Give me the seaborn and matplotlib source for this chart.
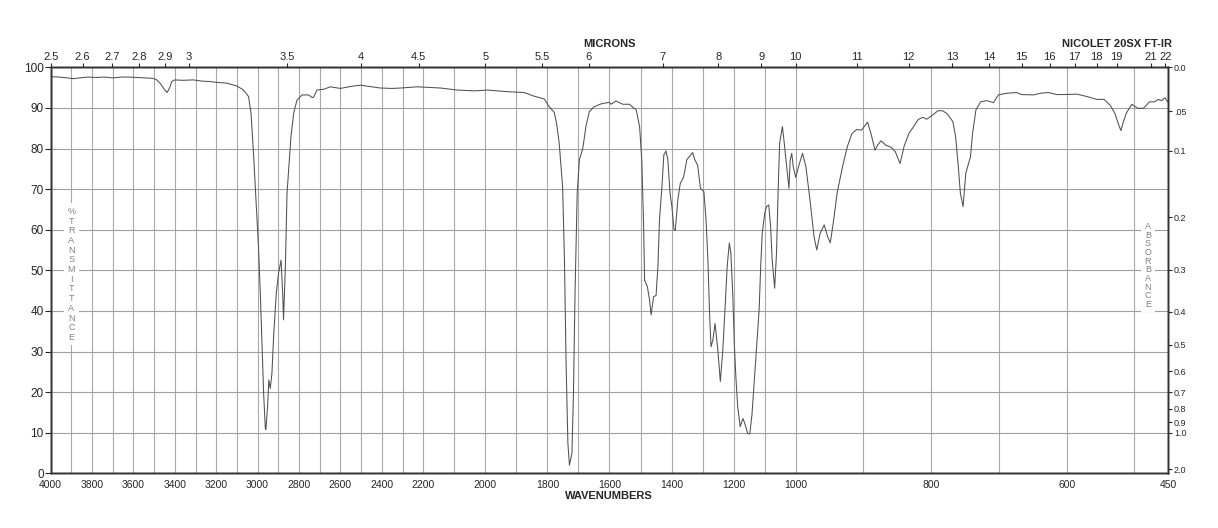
import numpy as np
import matplotlib
matplotlib.use("Agg")
import matplotlib.pyplot as plt
from matplotlib import font_manager
import seaborn as sns

# spectrum: wavenumber (cm-1) and % transmittance
wavenumber = [4000, 3960, 3920, 3890, 3860, 3820, 3780, 3740, 3700, 3660, 3620, 3580,
              3540, 3510, 3490, 3470, 3450, 3437, 3425, 3415, 3400, 3360, 3310, 3270,
              3230, 3200, 3149, 3100, 3068, 3044, 3032, 3020, 3007, 2996, 2987, 2979,
              2971, 2963, 2960, 2952, 2946, 2939, 2931, 2923, 2910, 2899, 2887, 2879,
              2875, 2866, 2858, 2850, 2839, 2826, 2810, 2786, 2754, 2737, 2730, 2713,
              2680, 2649, 2600, 2550, 2504, 2450, 2407, 2350, 2310, 2229, 2144, 2090,
              2036, 1993, 1928, 1875, 1843, 1810, 1794, 1778, 1770, 1762, 1751, 1745,
              1740, 1734, 1729, 1721, 1716, 1711, 1704, 1697, 1686, 1676, 1665, 1649,
              1627, 1600, 1595, 1579, 1557, 1536, 1514, 1503, 1496, 1490, 1487, 1478,
              1471, 1466, 1458, 1450, 1444, 1439, 1431, 1425, 1418, 1412, 1405, 1399,
              1392, 1388, 1380, 1372, 1361, 1351, 1343, 1332, 1325, 1316, 1307, 1296,
              1289, 1283, 1278, 1273, 1267, 1260, 1251, 1243, 1235, 1228, 1221, 1214,
              1209, 1203, 1198, 1193, 1187, 1179, 1170, 1163, 1155, 1148, 1141, 1129,
              1118, 1113, 1108, 1100, 1094, 1087, 1081, 1076, 1068, 1062, 1057, 1052,
              1043, 1037, 1029, 1022, 1018, 1013, 1008, 1000, 996, 990, 985, 979,
              973, 969, 964, 958, 953, 949, 944, 939, 931, 924, 917, 910,
              903, 894, 889, 883, 879, 874, 867, 859, 853, 846, 840, 833,
              826, 819, 812, 807, 800, 790, 783, 776, 768, 764, 760, 757,
              753, 749, 745, 742, 739, 734, 727, 718, 708, 701, 689, 674,
              667, 649, 639, 627, 615, 600, 585, 570, 556, 545, 536, 529,
              524, 520, 517, 512, 504, 495, 487, 482, 478, 470, 465, 460,
              455, 451]
transmittance = [97.7, 97.6, 97.4, 97.2, 97.4, 97.6, 97.5, 97.6, 97.4, 97.6, 97.6, 97.5,
                 97.4, 97.3, 97.0, 96.0, 94.5, 93.8, 95.0, 96.5, 96.9, 96.8, 96.9, 96.6,
                 96.5, 96.3, 96.1, 95.4, 94.4, 92.8, 88.7, 78.8, 66.5, 55.8, 44.3, 32.0,
                 19.7, 11.1, 10.8, 16.4, 23.0, 20.9, 24.6, 33.6, 44.3, 49.3, 52.5, 44.3,
                 37.8, 50.9, 69.0, 74.7, 82.9, 88.7, 91.9, 93.2, 93.2, 92.6, 92.6, 94.4,
                 94.6, 95.2, 94.8, 95.3, 95.6, 95.2, 94.9, 94.8, 94.9, 95.2, 94.9, 94.4,
                 94.2, 94.4, 94.0, 93.8, 92.9, 92.2, 90.3, 88.9, 86.0, 81.3, 70.6, 52.5,
                 27.9, 7.4, 2.0, 4.9, 19.7, 44.3, 69.0, 77.2, 80.0, 85.4, 89.1, 90.3,
                 91.0, 91.4, 90.9, 91.7, 90.9, 90.9, 89.5, 85.4, 77.2, 60.7, 47.6, 46.0,
                 42.7, 39.0, 43.5, 43.8, 50.9, 62.4, 70.6, 78.4, 79.4, 77.2, 69.0, 65.7,
                 59.9, 59.8, 67.3, 71.4, 73.0, 77.2, 78.0, 79.0, 77.2, 75.9, 70.2, 69.4,
                 62.4, 52.5, 40.2, 31.2, 32.8, 36.9, 30.4, 22.6, 30.4, 40.2, 50.9, 56.7,
                 54.2, 44.3, 32.0, 23.8, 16.4, 11.5, 13.5, 12.0, 9.8, 9.7, 14.5, 27.9,
                 40.2, 50.9, 59.1, 64.0, 65.7, 66.1, 60.7, 52.5, 45.6, 54.2, 69.0, 81.3,
                 85.4, 81.3, 75.5, 70.2, 77.2, 78.8, 75.5, 72.9, 75.5, 78.8, 75.5, 67.3,
                 58.3, 55.0, 59.1, 61.2, 58.3, 56.8, 62.4, 69.0, 75.5, 80.4, 83.7, 84.7,
                 84.5, 86.5, 83.7, 79.6, 80.9, 81.9, 80.8, 80.3, 79.2, 76.3, 80.6, 83.7,
                 85.4, 87.2, 87.7, 87.2, 88.0, 89.3, 89.3, 88.5, 86.6, 82.9, 75.5, 69.0,
                 65.7, 73.9, 76.3, 78.0, 83.7, 89.5, 91.5, 91.8, 91.3, 93.2, 93.6, 93.8,
                 93.3, 93.2, 93.6, 93.8, 93.3, 93.3, 93.4, 92.8, 92.1, 92.1, 90.7, 88.7,
                 86.2, 84.4, 86.2, 88.7, 90.9, 89.9, 89.9, 90.7, 91.5, 91.5, 92.1, 91.8,
                 92.5, 91.5]

wn_ticks = [4000, 3800, 3600, 3400, 3200, 3000, 2800, 2600, 2400, 2200,
            2000, 1800, 1600, 1400, 1200, 1000, 800, 600, 450]
micron_ticks = [2.5, 2.6, 2.7, 2.8, 2.9, 3, 3.5, 4, 4.5, 5, 5.5, 6, 7, 8, 9,
                10, 11, 12, 13, 14, 15, 16, 17, 18, 19, 21, 22]
micron_labels = ["2.5", "2.6", "2.7", "2.8", "2.9", "3", "3.5", "4", "4.5", "5", "5.5",
                 "6", "7", "8", "9", "10", "11", "12", "13", "14", "15", "16", "17",
                 "18", "19", "21", "22"]
absorb_ticks = [0.0, 0.05, 0.1, 0.2, 0.3, 0.4, 0.5, 0.6, 0.7, 0.8, 0.9, 1.0, 2.0]
absorb_labels = ["0.0", ".05", "0.1", "0.2", "0.3", "0.4", "0.5", "0.6", "0.7",
                 "0.8", "0.9", "1.0", "2.0"]

sns.set_style("white")
plt.rcParams["font.family"] = ["Liberation Sans", "DejaVu Sans"]

installed = {f.name for f in font_manager.fontManager.ttflist}
narrow = "Liberation Sans Narrow" if "Liberation Sans Narrow" in installed else "Liberation Sans"

# the chart paper uses three equal-width linear segments: 4000-2200, 2200-1000, 1000-450
brk_w = [450, 1000, 2200, 4000]
brk_u = [0, 1, 2, 3]


def fwd(w):
    return np.interp(w, brk_w, brk_u)


def inv(u):
    return np.interp(u, brk_u, brk_w)


fig = plt.figure(figsize=(12.18, 5.28), dpi=100)
ax = fig.add_axes([0.0416, 0.1036, 0.9176, 0.7689])

sns.lineplot(x=wavenumber, y=transmittance, sort=False, estimator=None,
             ax=ax, color="#505050", linewidth=0.75)

ax.set_xscale("function", functions=(fwd, inv))
ax.set_xlim(4000, 450)
ax.set_ylim(0, 100)

ax.set_xticks(wn_ticks)
ax.set_xticklabels([str(t) for t in wn_ticks], fontsize=7.5, family=narrow)
ax.set_xticks(list(range(500, 4000, 100)), minor=True)
ax.set_yticks(range(0, 101, 10))
ax.tick_params(axis="x", which="both", length=0, pad=5)
ax.tick_params(axis="y", direction="out", length=4, width=0.8, pad=1, labelsize=8.5, left=True)
ax.grid(which="both", axis="x", color="#a8a8a8", linewidth=0.8)
ax.grid(which="major", axis="y", color="#a0a0a0", linewidth=0.8)
for s in ax.spines.values():
    s.set_color("#333333")
    s.set_linewidth(1.0)

# top micron axis
ax_top = ax.twiny()
ax_top.set_xscale("function", functions=(fwd, inv))
ax_top.set_xlim(4000, 450)
ax_top.set_xticks([10000.0 / m for m in micron_ticks])
ax_top.set_xticklabels(micron_labels, fontsize=8)
ax_top.xaxis.set_minor_locator(matplotlib.ticker.NullLocator())
ax_top.tick_params(axis="x", direction="out", length=3, width=0.8, pad=1, top=True)

# right absorbance axis
ax_r = ax.twinx()
ax_r.set_ylim(0, 100)
ax_r.set_yticks([100 * 10 ** (-a) for a in absorb_ticks])
ax_r.set_yticklabels(absorb_labels, fontsize=6.5)
ax_r.tick_params(axis="y", direction="out", length=3, width=0.8, pad=1, right=True)
for a in (ax_top, ax_r):
    for s in a.spines.values():
        s.set_color("#333333")
        s.set_linewidth(1.0)

ax.text(3900, 49, "\n".join("%TRANSMITTANCE"), ha="center", va="center",
        fontsize=6.5, color="#808080", linespacing=1.1,
        bbox=dict(facecolor="white", edgecolor="none", pad=2.5), zorder=3)
ax.text(480, 51.2, "\n".join("ABSORBANCE"), ha="center", va="center",
        fontsize=6.5, color="#808080", linespacing=0.95,
        bbox=dict(facecolor="white", edgecolor="none", pad=2.5), zorder=3)

fig.text(609 / 1218, 1 - 44 / 528, "MICRONS", ha="center", va="center",
         fontsize=8, fontweight="bold")
fig.text(1172 / 1218, 1 - 44 / 528, "NICOLET 20SX FT-IR", ha="right", va="center",
         fontsize=8, fontweight="bold")
fig.text(609 / 1218, 1 - 496 / 528, "WAVENUMBERS", ha="center", va="center",
         fontsize=8, fontweight="bold", family=narrow)

fig.savefig("out.png", dpi=100)
